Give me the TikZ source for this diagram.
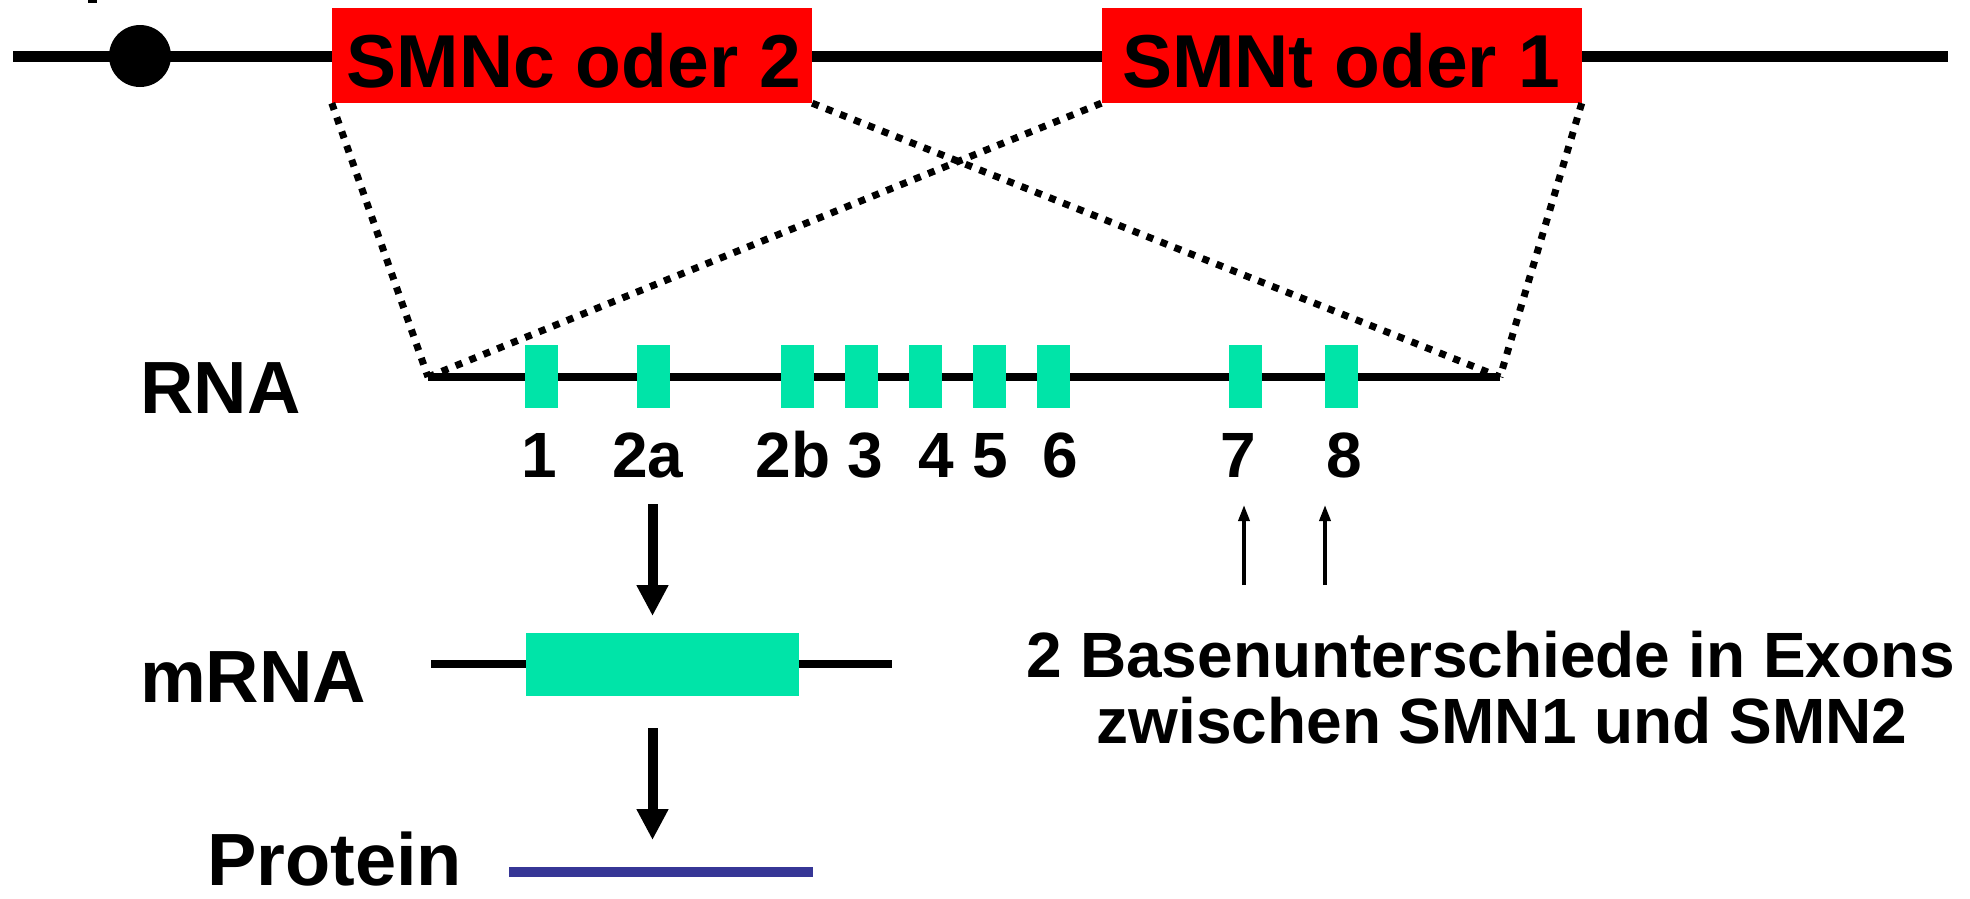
\documentclass[tikz,border=0pt]{standalone}
\usepackage{fontspec}
\setmainfont{Liberation Sans}
\usetikzlibrary{arrows.meta}
\definecolor{exongreen}{RGB}{0,228,168}
\definecolor{genered}{RGB}{255,0,0}
\definecolor{protblue}{RGB}{54,54,150}
\tikzset{
  genebox/.style={fill=genered, minimum width=480pt, minimum height=95pt, inner sep=0pt},
  genename/.style={anchor=base, inner sep=0pt, font=\fontsize{75}{90}\selectfont\bfseries},
  exon/.style={fill=exongreen, minimum width=33pt, minimum height=63pt, inner sep=0pt},
  exonlabel/.style={anchor=base, inner sep=0pt, font=\fontsize{64}{77}\selectfont\bfseries},
  rowlabel/.style={anchor=base west, inner sep=0pt, font=\fontsize{74}{89}\selectfont\bfseries},
  note/.style={anchor=base, inner sep=0pt, font=\fontsize{64}{77}\selectfont\bfseries},
  strand/.style={line width=8pt},
  splice/.style={line width=7pt, dash pattern=on 7pt off 8pt},
  bigarrow/.style={line width=10pt, -{Triangle[length=31pt,width=30pt]}},
  thinarrow/.style={line width=3.5pt, -{Triangle[length=16pt,width=11pt]}},
}
\begin{document}
\begin{tikzpicture}[x=1pt,y=-1pt]
\useasboundingbox (0,0) rectangle (1970,898);

% chromosome with centromere and the two gene copies
\fill (88,0) rectangle (97,3);
\coordinate (chrL) at (13,56);
\coordinate (chrR) at (1948,56);
\draw[line width=11pt] (chrL) -- (chrR);
\node[circle, fill=black, minimum size=62pt, inner sep=0pt] (cen) at (140,56) {};
\node[genebox] (g2) at (572,55.5) {};
\node[genename] (g2t) at (574,87) {SMNc oder 2};
\node[genebox] (g1) at (1341.5,55.5) {};
\node[genename] (g1t) at (1341,87) {SMNt oder 1};

% RNA strand ends
\coordinate (rnaL) at (428,377);
\coordinate (rnaR) at (1500,377);

% splice projections
\draw[splice] (g2.south west) -- (rnaL);
\draw[splice] (g2.south east) -- (rnaR);
\draw[splice] (g1.south west) -- (rnaL);
\draw[splice] (g1.south east) -- (rnaR);

\draw[strand] (rnaL) -- (rnaR);

% exons
\node[exon] (e1)  at (541,376.5) {};
\node[exon] (e2a) at (653,376.5) {};
\node[exon] (e2b) at (797,376.5) {};
\node[exon] (e3)  at (861,376.5) {};
\node[exon] (e4)  at (925,376.5) {};
\node[exon] (e5)  at (989,376.5) {};
\node[exon] (e6)  at (1053,376.5) {};
\node[exon] (e7)  at (1245,376.5) {};
\node[exon] (e8)  at (1341,376.5) {};

\node[exonlabel] (l1)  at (539,477) {1};
\node[exonlabel] (l2a) at (648,477) {2a};
\node[exonlabel] (l2b) at (793,477) {2b};
\node[exonlabel] (l3)  at (865,477) {3};
\node[exonlabel] (l4)  at (936,477) {4};
\node[exonlabel] (l5)  at (990,477) {5};
\node[exonlabel] (l6)  at (1060,477) {6};
\node[exonlabel] (l7)  at (1238,477) {7};
\node[exonlabel] (l8)  at (1344,477) {8};

% row labels
\node[rowlabel] (rna)  at (140,413) {RNA};
\node[rowlabel] (mrna) at (140,702) {mRNA};
\node[rowlabel, text depth=0pt] (prot) at (207,885) {Protein};

% mRNA
\coordinate (mL) at (431,664);
\coordinate (mR) at (892,664);
\draw[strand] (mL) -- (mR);
\node[exon, minimum width=273pt] (mbox) at (662.5,664.5) {};

% protein
\coordinate (pL) at (509,872);
\coordinate (pR) at (813,872);
\draw[protblue, line width=10pt] (pL) -- (pR);

% processing arrows
\coordinate (a1s) at (652.5,504);
\coordinate (a1e) at (652.5,616);
\coordinate (a2s) at (652.5,728);
\coordinate (a2e) at (652.5,840);
\draw[bigarrow] (a1s) -- (a1e);
\draw[bigarrow] (a2s) -- (a2e);

% base differences
\coordinate (d7s) at (1244,585);
\coordinate (d7e) at (1244,505);
\coordinate (d8s) at (1325,585);
\coordinate (d8e) at (1325,505);
\draw[thinarrow] (d7s) -- (d7e);
\draw[thinarrow] (d8s) -- (d8e);

\node[note] (n1) at (1491,677) {2 Basenunterschiede in Exons};
\node[note] (n2) at (1502,743) {zwischen SMN1 und SMN2};
\end{tikzpicture}
\end{document}
